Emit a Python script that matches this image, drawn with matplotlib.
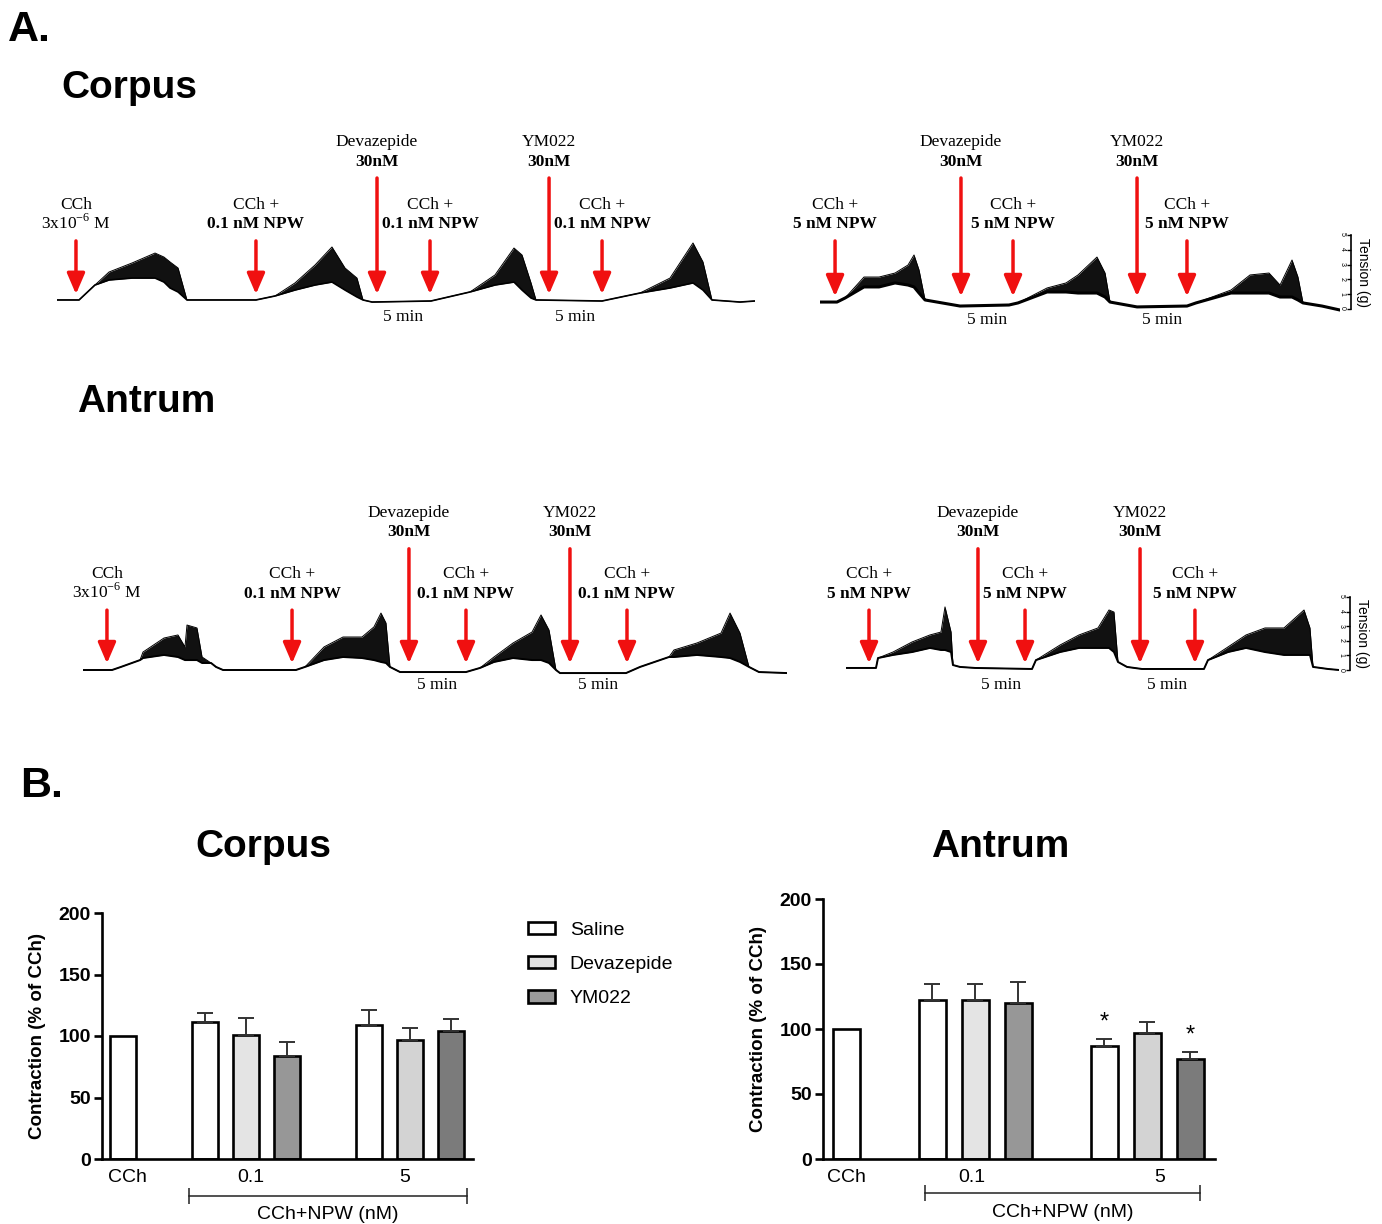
#Recreation of the NPW / CCh contraction figure: raw tension traces (A)
#and summary bar charts (B)

import matplotlib
matplotlib.use('Agg')
import matplotlib.pyplot as plt
from matplotlib.patches import Patch
import numpy as np

plt.rcParams['font.family'] = 'Liberation Sans'
plt.rcParams['mathtext.fontset'] = 'custom'
plt.rcParams['mathtext.rm'] = 'Liberation Serif'

#---------------- data: tension traces (t in min, envelope low/high in g)
corpus_01_t = [0.0, 2.08, 3.58, 4.91, 7.08, 9.25, 10.09, 10.66, 11.42, 12.26,
               18.77, 20.57, 22.45, 24.34, 25.94, 27.17, 28.3, 28.87, 29.72, 35.28,
               38.96, 41.32, 43.11, 43.87, 44.72, 45.19, 51.42, 55.0, 57.83, 60.0,
               60.94, 61.79, 64.43, 65.85]
corpus_01_lo = [0.61, 0.61, 1.62, 1.96, 2.09, 2.09, 1.82, 1.42, 1.15, 0.61,
                0.61, 0.88, 1.28, 1.62, 1.82, 1.28, 0.81, 0.61, 0.47, 0.54,
                1.15, 1.62, 1.82, 1.28, 0.74, 0.61, 0.54, 1.08, 1.42, 1.76,
                1.28, 0.61, 0.47, 0.54]
corpus_01_hi = [0.61, 0.61, 1.62, 2.50, 3.11, 3.78, 3.51, 3.18, 2.77, 0.61,
                0.61, 0.88, 1.76, 2.97, 4.19, 2.77, 2.09, 0.61, 0.47, 0.54,
                1.15, 2.30, 4.12, 3.65, 1.76, 0.61, 0.54, 1.08, 2.09, 4.46,
                3.18, 0.61, 0.47, 0.54]

corpus_5_t = [0, 1.6, 2.36, 4.15, 5.57, 7.08, 8.3, 8.87, 9.34, 9.91,
              13.21, 17.83, 18.68, 21.42, 23.21, 24.34, 26.13, 26.89, 27.36, 29.91,
              34.62, 35.47, 38.77, 40.57, 42.36, 43.4, 44.53, 45.09, 45.57, 47.36, 49.06]
corpus_5_lo = [0.47, 0.47, 0.74, 1.49, 1.49, 1.76, 1.62, 1.49, 1.08, 0.61,
               0.20, 0.27, 0.41, 1.15, 1.15, 1.08, 1.08, 0.81, 0.47, 0.14,
               0.20, 0.41, 1.08, 1.08, 1.08, 0.81, 0.81, 0.61, 0.41, 0.20, -0.07]
corpus_5_hi = [0.47, 0.47, 0.74, 2.16, 2.16, 2.43, 2.97, 3.65, 2.64, 0.61,
               0.20, 0.27, 0.41, 1.42, 1.76, 2.30, 3.51, 2.43, 0.47, 0.14,
               0.20, 0.41, 1.28, 2.30, 2.43, 1.62, 3.31, 2.16, 0.41, 0.20, -0.07]

antrum_01_t = [0, 2.74, 3.58, 5.38, 5.66, 7.64, 8.96, 9.62, 9.81, 10.75,
               11.23, 12.08, 12.55, 13.21, 20.09, 20.94, 22.74, 24.53, 26.32, 27.45,
               28.11, 28.58, 28.96, 29.91, 36.13, 37.45, 38.77, 40.57, 42.36, 43.21,
               43.96, 44.62, 45.0, 51.23, 52.55, 55.28, 55.75, 57.92, 60.19, 61.04,
               61.98, 62.83, 63.77, 66.42]
antrum_01_lo = [0, 0, 0.21, 0.68, 0.82, 1.03, 0.89, 0.68, 0.68, 0.68,
                0.48, 0.48, 0.21, 0, 0, 0.21, 0.68, 0.89, 0.82, 0.68,
                0.55, 0.48, 0.21, -0.14, -0.14, 0.14, 0.55, 0.82, 0.68, 0.68,
                0.48, 0, -0.21, -0.21, 0.21, 0.89, 0.89, 1.03, 0.89, 0.82,
                0.55, 0.21, -0.14, -0.21]
antrum_01_hi = [0, 0, 0.21, 0.68, 1.23, 2.19, 2.40, 1.58, 3.08, 2.88,
                0.89, 0.48, 0.21, 0, 0, 0.21, 1.58, 2.26, 2.26, 2.95,
                3.90, 3.22, 0.21, -0.14, -0.14, 0.14, 0.89, 1.85, 2.60, 3.77,
                2.74, 0, -0.21, -0.21, 0.21, 0.89, 1.37, 1.85, 2.53, 3.90,
                2.53, 0.21, -0.14, -0.21]

antrum_5_t = [0, 2.83, 3.02, 4.43, 6.23, 7.92, 8.96, 9.34, 9.91, 10.09,
              10.75, 12.17, 17.55, 17.92, 20.19, 21.98, 23.77, 24.81, 25.28, 25.66,
              26.51, 27.92, 33.77, 34.15, 36.04, 37.74, 39.53, 41.32, 43.21, 43.77,
              44.06, 45.47, 46.51]
antrum_5_lo = [0.14, 0.14, 0.82, 1.03, 1.23, 1.51, 1.37, 1.37, 1.23, 0.34,
               0.21, 0.14, 0.07, 0.68, 1.23, 1.51, 1.51, 1.51, 1.23, 0.55,
               0.21, 0.07, 0.07, 0.68, 1.23, 1.51, 1.23, 1.03, 1.03, 1.03,
               0.21, 0.07, 0]
antrum_5_hi = [0.14, 0.14, 0.82, 1.23, 1.92, 2.40, 2.60, 4.32, 2.60, 0.34,
               0.21, 0.14, 0.07, 0.68, 1.71, 2.40, 2.88, 4.11, 3.97, 0.55,
               0.21, 0.07, 0.07, 0.68, 1.58, 2.40, 2.88, 2.88, 4.11, 2.88,
               0.21, 0.07, 0]

#drug additions (min)
corpus_01_events = [1.79, 18.77, 30.19, 35.19, 46.42, 51.42]
corpus_5_events = [1.42, 13.30, 18.21, 29.91, 34.62]
antrum_01_events = [2.26, 19.72, 30.75, 36.13, 45.94, 51.32]
antrum_5_events = [2.17, 12.45, 16.89, 27.74, 32.92]

lbl_cch = ('CCh', r'3x10$^{\mathregular{-6}}$ M', False)
lbl_dev = ('Devazepide', '30nM', True)
lbl_ym = ('YM022', '30nM', True)
lbl_01 = ('CCh +', '0.1 nM NPW', True)
lbl_5 = ('CCh +', '5 nM NPW', True)
labels_01 = [lbl_cch, lbl_01, lbl_dev, lbl_01, lbl_ym, lbl_01]
labels_5 = [lbl_5, lbl_dev, lbl_5, lbl_ym, lbl_5]

#---------------- data: bar charts (% of CCh, mean and SEM)
groups = ['CCh', '0.1', '5']
corpus_cch = 100
corpus_saline = [111, 109]
corpus_dev = [101, 97]
corpus_ym = [84, 104]
corpus_saline_err = [8, 12]
corpus_dev_err = [14, 9.5]
corpus_ym_err = [11, 10]

antrum_cch = 100
antrum_saline = [122, 87]
antrum_dev = [122, 97]
antrum_ym = [120, 77]
antrum_saline_err = [13, 5.5]
antrum_dev_err = [12.5, 8.5]
antrum_ym_err = [16.5, 5.5]
antrum_stars = [('saline', 1), ('ym', 1)]

#---------------- figure
W, H = 1382, 1224
PX_MIN = 10.6
fig = plt.figure(figsize=(W / 100, H / 100), dpi=100)


def px_axes(x0, x1, ytop, ybot):
    return fig.add_axes([x0 / W, 1 - ybot / H, (x1 - x0) / W, (ybot - ytop) / H])


def fig_text(x, y, s, **kw):
    fig.text(x / W, 1 - y / H, s, **kw)


def trace(x0, yzero, pxg, t, lo, hi, events, labels, kinds, tip, tops, minlab_y, lw):
    g0, g1 = -1.5, 12
    ax = px_axes(x0, x0 + t[-1] * PX_MIN, yzero - g1 * pxg, yzero - g0 * pxg)
    ax.set_xlim(0, t[-1])
    ax.set_ylim(g0, g1)
    ax.axis('off')
    ax.fill_between(t, lo, hi, color='#111111', lw=0)
    ax.plot(t, lo, color='black', lw=lw, solid_joinstyle='round')
    ax.plot(t, hi, color='black', lw=0.7)
    for te, (l1, l2, b2), k in zip(events, labels, kinds):
        top = tops[k]
        ax.annotate('', xy=(te, tip), xytext=(te, top),
                    arrowprops=dict(arrowstyle='-|>,head_width=0.45,head_length=1.05',
                                    color='#f01010', lw=2.5, shrinkA=0, shrinkB=0,
                                    mutation_scale=12))
        ax.annotate(l2, xy=(te, top), xytext=(0, 9), textcoords='offset points',
                    ha='center', va='baseline', family='Liberation Serif', fontsize=12.5,
                    fontweight='bold' if b2 else 'normal')
        ax.annotate(l1, xy=(te, top), xytext=(0, 23), textcoords='offset points',
                    ha='center', va='baseline', family='Liberation Serif', fontsize=12.5)
    #5 min marks sit between each antagonist and the following NPW addition
    for i, k in enumerate(kinds[:-1]):
        if k == 'long':
            ax.text((events[i] + events[i + 1]) / 2, minlab_y, '5 min', ha='center',
                    va='center', family='Liberation Serif', fontsize=12.5)
    return ax


def scale_bar(x, yzero, pxg):
    ax = px_axes(x, x + 1, yzero - 5 * pxg, yzero)
    ax.set_ylim(0, 5)
    ax.set_xlim(0, 1)
    for s in ['top', 'right', 'bottom']:
        ax.spines[s].set_visible(False)
    ax.spines['left'].set_linewidth(1.2)
    ax.set_xticks([])
    ax.set_yticks(range(6))
    ax.tick_params(axis='y', length=3, width=1, labelsize=5, pad=1, labelrotation=-90)
    ax.yaxis.set_label_position('right')
    ax.set_ylabel('Tension (g)', rotation=-90, fontsize=10, labelpad=3, va='bottom')


kinds_01 = ['short', 'short', 'long', 'short', 'long', 'short']
kinds_5 = ['short', 'long', 'short', 'long', 'short']
corpus_tops = {'long': 8.85, 'short': 4.6}
antrum_tops = {'long': 8.3, 'short': 4.1}

trace(57, 309, 14.8, corpus_01_t, corpus_01_lo, corpus_01_hi, corpus_01_events,
      labels_01, kinds_01, 1.0, corpus_tops, -0.55, 1.2)
trace(820, 309, 14.8, corpus_5_t, corpus_5_lo, corpus_5_hi, corpus_5_events,
      labels_5, kinds_5, 0.85, corpus_tops, -0.75, 2.2)
trace(83, 670, 14.6, antrum_01_t, antrum_01_lo, antrum_01_hi, antrum_01_events,
      labels_01, kinds_01, 0.45, antrum_tops, -1.05, 1.4)
trace(846, 670, 14.6, antrum_5_t, antrum_5_lo, antrum_5_hi, antrum_5_events,
      labels_5, kinds_5, 0.45, antrum_tops, -1.05, 1.4)
scale_bar(1351, 309, 14.8)
scale_bar(1350, 670, 14.6)

#panel labels and titles
fig_text(8, 30, 'A.', fontsize=31, fontweight='bold', va='center')
fig_text(20, 786, 'B.', fontsize=31, fontweight='bold', va='center')
fig_text(61, 88, 'Corpus', fontsize=28, fontweight='bold', va='center')
fig_text(77, 402, 'Antrum', fontsize=28, fontweight='bold', va='center')
fig_text(263, 847, 'Corpus', fontsize=28, fontweight='bold', va='center', ha='center')
fig_text(1000, 847, 'Antrum', fontsize=28, fontweight='bold', va='center', ha='center')


def bar_panel(rect, cch, sal, dev, ym, sal_e, dev_e, ym_e, xlim, tick_pos, brk, brk_y,
              lab_y, stars=()):
    ax = px_axes(*rect)
    pos_sal = np.array([2, 6])
    pos_dev = pos_sal + 1
    pos_ym = pos_sal + 2
    w = 0.63
    kw = dict(width=w, edgecolor='black', linewidth=1.9, zorder=2)
    ax.bar([0], [cch], color='white', **kw)
    ax.bar(pos_sal, sal, color='white', **kw)
    ax.bar(pos_dev, dev, color=['#e4e4e4', '#d3d3d3'], **kw)
    ax.bar(pos_ym, ym, color=['#979797', '#7b7b7b'], **kw)
    for p, v, e in [(pos_sal, sal, sal_e), (pos_dev, dev, dev_e), (pos_ym, ym, ym_e)]:
        ax.errorbar(p, v, yerr=[np.zeros(len(e)), e], fmt='none', ecolor='#333333',
                    elinewidth=1.4, capsize=6, capthick=1.4, zorder=3)
    series = {'saline': (pos_sal, sal, sal_e), 'ym': (pos_ym, ym, ym_e)}
    for name, i in stars:
        p, v, e = series[name]
        ax.annotate('*', xy=(p[i], v[i] + e[i]), xytext=(0, 4), textcoords='offset points',
                    ha='center', va='bottom', fontsize=17)
    ax.set_xlim(*xlim)
    ax.set_ylim(0, 200)
    ax.set_yticks([0, 50, 100, 150, 200])
    ax.set_xticks(tick_pos)
    ax.set_xticklabels(groups)
    for s in ['top', 'right']:
        ax.spines[s].set_visible(False)
    for s in ['left', 'bottom']:
        ax.spines[s].set_linewidth(1.9)
    ax.tick_params(axis='x', length=0, labelsize=14, pad=7)
    ax.tick_params(axis='y', length=6, width=1.9, labelsize=14, pad=2)
    for lbl in ax.get_yticklabels():
        lbl.set_fontweight('bold')
    ax.set_ylabel('Contraction (% of CCh)', fontsize=13.5, fontweight='bold', labelpad=9)
    tr = ax.get_xaxis_transform()
    ax.plot(brk, [brk_y, brk_y], color='#222222', lw=1.1, marker='|', ms=12, mew=1.1,
            transform=tr, clip_on=False)
    ax.text(np.mean(brk), lab_y, 'CCh+NPW (nM)', transform=tr, ha='center', va='center',
            fontsize=14)
    return ax


bar_panel((102, 473, 913, 1159), corpus_cch, corpus_saline, corpus_dev, corpus_ym,
          corpus_saline_err, corpus_dev_err, corpus_ym_err, (-0.51, 8.54),
          [0.1, 3.12, 6.88], [1.61, 8.39], -0.15, -0.224)
bar_panel((823, 1215, 899, 1159), antrum_cch, antrum_saline, antrum_dev, antrum_ym,
          antrum_saline_err, antrum_dev_err, antrum_ym_err, (-0.54, 8.58),
          [0.0, 2.93, 7.3], [1.84, 8.23], -0.131, -0.204, antrum_stars)

handles = [Patch(facecolor=c, edgecolor='black', linewidth=1.9)
           for c in ['white', '#e0e0e0', '#9a9a9a']]
fig.legend(handles, ['Saline', 'Devazepide', 'YM022'], loc='upper left',
           bbox_to_anchor=(528 / W, 1 - 922 / H), frameon=False, fontsize=14,
           borderpad=0, borderaxespad=0, handlelength=1.4, handleheight=0.6,
           handletextpad=0.75, labelspacing=0.88)

plt.savefig('out.png', dpi=100)
